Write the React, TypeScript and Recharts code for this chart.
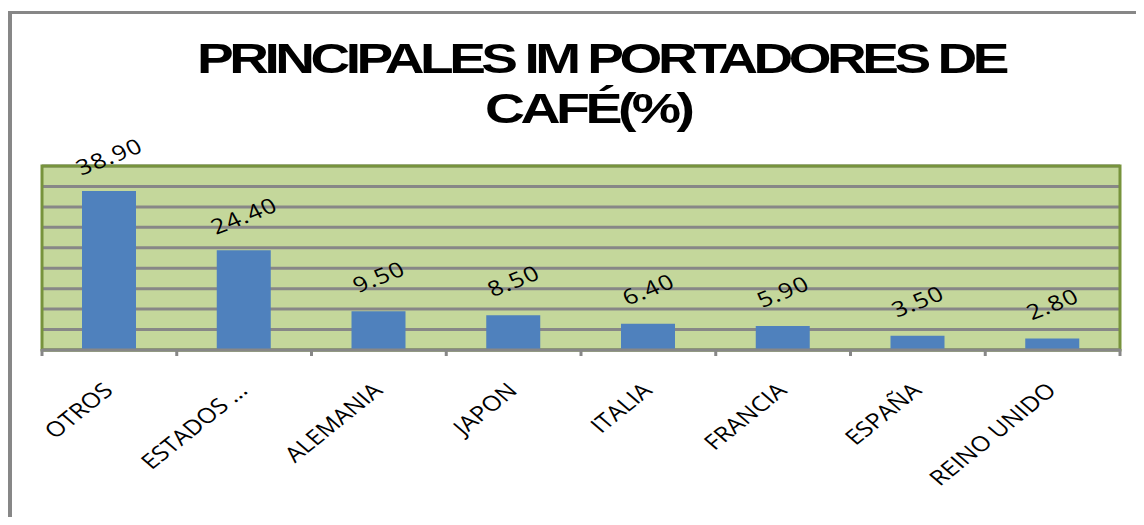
import { BarChart, Bar, XAxis, YAxis, CartesianGrid, LabelList, ReferenceArea } from "recharts";

const countries = ["OTROS", "ESTADOS ...", "ALEMANIA", "JAPON", "ITALIA", "FRANCIA", "ESPAÑA", "REINO UNIDO"];
const shares = [38.9, 24.4, 9.5, 8.5, 6.4, 5.9, 3.5, 2.8];
const yTicks = [0, 5, 10, 15, 20, 25, 30, 35, 40, 45];

const titleLines = ["PRINCIPALES IM PORTADORES DE", "CAFÉ(%)"];

const rows = countries.map((name, i) => ({ name, value: shares[i] }));

const GRAY = "#878787";
const OLIVE = "#77933c";

// category label + tick marks on the category boundaries (Excel style)
function CountryTick(props: any) {
  const { x, y, payload, index, width } = props;
  const half = (width || 1078) / countries.length / 2;
  const last = index === countries.length - 1;
  return (
    <g>
      <line x1={x - half} x2={x - half} y1={y - 1} y2={y + 6} stroke={GRAY} strokeWidth={3} />
      {last && <line x1={x + half} x2={x + half} y1={y - 1} y2={y + 6} stroke={GRAY} strokeWidth={3} />}
      <text
        transform={`translate(${x + 5},${y + 42}) scale(1.2,1) rotate(-44)`}
        textAnchor="end"
        fontFamily="Open Sans"
        fontSize={21}
        fill="#000"
      >
        {payload.value}
      </text>
    </g>
  );
}

function ValueLabel(props: any) {
  const { x, y, width, value } = props;
  const cx = x + width / 2;
  const cy = y - 35;
  return (
    <text
      transform={`translate(${cx},${cy}) scale(1.2,1) rotate(-25)`}
      textAnchor="middle"
      dominantBaseline="central"
      fontFamily="Open Sans"
      fontSize={21}
      letterSpacing={1}
      fill="#000"
    >
      {Number(value).toFixed(2)}
    </text>
  );
}

export default function App() {
  return (
    <div style={{ position: "relative", width: 1144, height: 525, margin: -8, overflow: "hidden", background: "#fff" }}>
      <div
        style={{
          position: "absolute",
          left: 8,
          top: 11,
          width: 1300,
          height: 700,
          borderTop: `3px solid ${GRAY}`,
          borderLeft: `4px solid ${GRAY}`,
        }}
      />
      <svg width={1144} height={150} style={{ position: "absolute", left: 0, top: 0 }}>
        <text
          transform="translate(197,73) scale(1.28,1)"
          fontFamily="Liberation Sans"
          fontWeight={700}
          fontSize={43}
          letterSpacing={-3.5}
          fill="#000"
        >
          {titleLines[0]}
        </text>
        <text
          transform="translate(485,123) scale(1.29,1)"
          fontFamily="Liberation Sans"
          fontWeight={700}
          fontSize={43}
          letterSpacing={-3.5}
          fill="#000"
        >
          {titleLines[1]}
        </text>
      </svg>
      <div style={{ position: "absolute", left: 0, top: 0 }}>
        <BarChart width={1144} height={525} data={rows} margin={{ top: 166, right: 24, left: 42, bottom: 0 }}>
          <CartesianGrid vertical={false} stroke={GRAY} strokeWidth={3} fill="#c4d79b" fillOpacity={1} />
          <XAxis
            dataKey="name"
            interval={0}
            axisLine={{ stroke: GRAY, strokeWidth: 3 }}
            tickLine={false}
            tickSize={0}
            tickMargin={0}
            tick={<CountryTick />}
            height={175}
          />
          <YAxis hide domain={[0, 45]} ticks={yTicks} interval={0} />
          <ReferenceArea y1={0} y2={45} fill="none" stroke={OLIVE} strokeWidth={3} ifOverflow="visible" />
          <Bar dataKey="value" fill="#4f81bd" barSize={54} isAnimationActive={false}>
            <LabelList dataKey="value" content={<ValueLabel />} />
          </Bar>
        </BarChart>
      </div>
    </div>
  );
}
